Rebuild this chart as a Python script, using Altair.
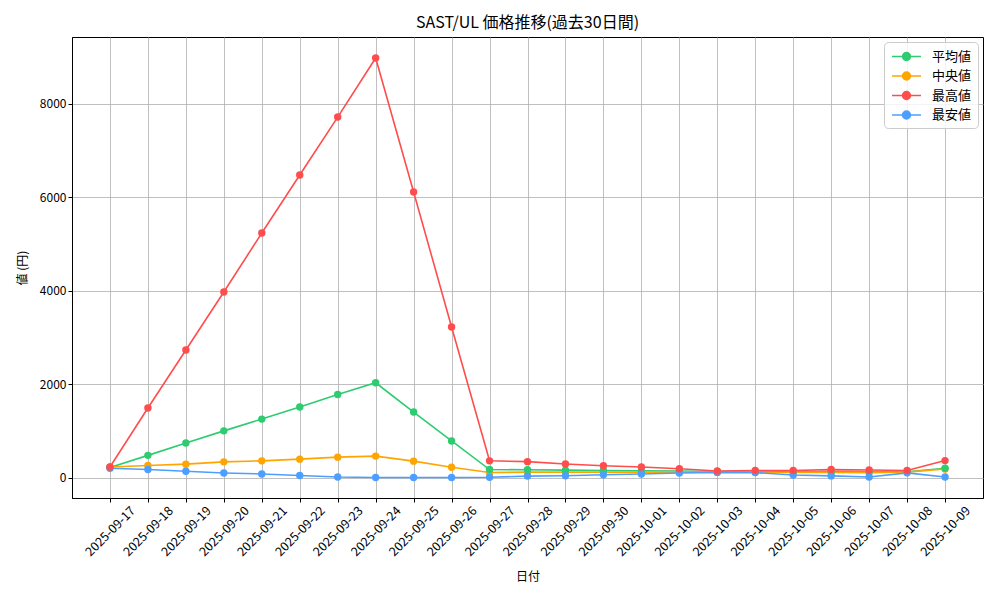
import altair as alt
import pandas as pd

dates = ["2025-09-17", "2025-09-18", "2025-09-19", "2025-09-20", "2025-09-21",
         "2025-09-22", "2025-09-23", "2025-09-24", "2025-09-25", "2025-09-26",
         "2025-09-27", "2025-09-28", "2025-09-29", "2025-09-30", "2025-10-01",
         "2025-10-02", "2025-10-03", "2025-10-04", "2025-10-05", "2025-10-06",
         "2025-10-07", "2025-10-08", "2025-10-09"]

avg_vals = [225, 484, 749, 1008, 1260, 1519, 1785, 2037, 1411, 792, 181, 175,
            168, 160, 155, 148, 140, 138, 135, 135, 130, 135, 210]
median_vals = [235, 268, 296, 345, 367, 403, 446, 468, 360, 231, 116, 125,
               125, 125, 125, 125, 125, 125, 120, 118, 115, 125, 193]
max_vals = [235, 1497, 2738, 3979, 5240, 6480, 7720, 8984, 6118, 3230, 367, 350,
            300, 263, 235, 199, 150, 160, 160, 180, 170, 160, 372]
min_vals = [209, 181, 144, 108, 86, 52, 22, 10, 10, 10, 15, 40,
            49, 70, 85, 107, 120, 115, 65, 45, 21, 110, 21]

series_names = ["平均値", "中央値", "最高値", "最安値"]
series_colors = ["#2ecc71", "#ffa500", "#ff4d4d", "#4d9fff"]
y_ticks = [0, 2000, 4000, 6000, 8000]

rows = []
for name, vals in zip(series_names, [avg_vals, median_vals, max_vals, min_vals]):
    for d, v in zip(dates, vals):
        rows.append({"日付": d, "値": v, "系列": name})
df = pd.DataFrame(rows)

FONT = "Noto Sans CJK JP"
# legend glyph: short line with a dot (unit box is 15px -> 7.5px per unit)
L = 1.93
r = 0.53
sym = (f"M-{L},0L{L},0M-{r},0A{r},{r},0,1,1,{r},0A{r},{r},0,1,1,-{r},0Z")

color = alt.Color(
    "系列:N",
    scale=alt.Scale(domain=series_names, range=series_colors),
    legend=alt.Legend(
        title=None, orient="top-right", offset=5,
        fillColor="rgba(255,255,255,0.8)", strokeColor="#cccccc",
        cornerRadius=4, padding=6, labelFontSize=13, labelFont=FONT,
        symbolType=sym, symbolSize=225, symbolStrokeWidth=1.5,
        symbolOffset=8, rowPadding=3.5, labelOffset=17,
    ),
)

x = alt.X(
    "日付:O",
    sort=dates,
    scale=alt.Scale(type="point", padding=1.09),
    axis=alt.Axis(
        title="日付", labelAngle=315, labelAlign="center", labelBaseline="middle",
        labelFontSize=12.5, titleFontSize=12, grid=True, tickSize=4,
        labelPadding=29, titlePadding=13,
    ),
)
y = alt.Y(
    "値:Q",
    scale=alt.Scale(domain=[-428, 9433], nice=False, zero=False),
    axis=alt.Axis(
        title="値 (円)", values=y_ticks, format="d", labelFontSize=12,
        titleFontSize=12, grid=True, tickSize=4, titlePadding=10,
    ),
)

base = alt.Chart(df).encode(x=x, y=y, color=color, order=alt.Order("系列:N"))
lines = base.mark_line(strokeWidth=1.6)
points = base.mark_point(filled=True, size=55, opacity=1)

chart = (
    alt.layer(lines, points)
    .properties(
        width=911, height=461,
        title=alt.TitleParams("SAST/UL 価格推移(過去30日間)", fontSize=16,
                              font=FONT, fontWeight="normal", offset=6,
                              anchor="middle"),
        autosize=alt.AutoSizeParams(type="none"),
        padding={"left": 64, "top": 29, "right": 9, "bottom": 94},
    )
    .configure_view(stroke="black", strokeWidth=1)
    .configure_axis(
        labelFont=FONT, titleFont=FONT, labelColor="black", titleColor="black",
        titleFontWeight="normal", domainColor="black", tickColor="black",
        gridColor="#b0b0b0", gridWidth=0.8,
    )
)

chart.save("out.html", embed_options={"renderer": "svg", "actions": False})
